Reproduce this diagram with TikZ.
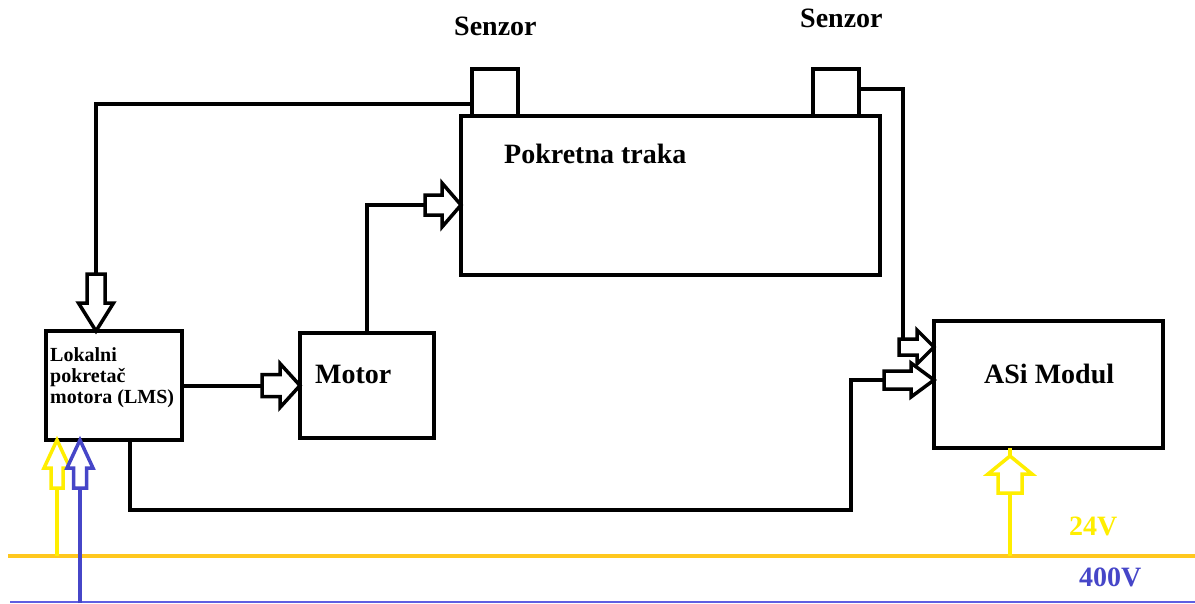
\documentclass[tikz,border=0pt]{standalone}
\usepackage{fontspec}
\setmainfont{Liberation Serif}
\usetikzlibrary{calc}
\definecolor{railY}{RGB}{255,200,30}
\definecolor{sigY}{RGB}{255,238,0}
\definecolor{sigB}{RGB}{70,70,200}
\definecolor{railB}{RGB}{95,95,225}
\tikzset{
  wire/.style={line width=4pt, black},
  boxn/.style={draw, line width=4pt, inner sep=0pt, outer sep=0pt, anchor=north west},
  lbl/.style={font=\fontsize{28}{30}\selectfont\bfseries, anchor=base west, inner sep=0pt},
  lmslbl/.style={font=\fontsize{20}{21}\selectfont\bfseries, anchor=base west, inner sep=0pt},
  pics/harrow/.style n args={4}{code={
    \draw[pic actions, fill=white] (0,0) -- (-#2,#4) -- (-#2,#3) -- (-#1,#3) -- (-#1,-#3) -- (-#2,-#3) -- (-#2,-#4) -- cycle;
  }},
  harr/.style={line width=3.5pt, black, line join=miter},
}
\begin{document}
\begin{tikzpicture}[x=1pt, y=-1pt]
\useasboundingbox (0,0) rectangle (1195,603);

% boxes
\node[boxn, minimum width=46pt, minimum height=47pt] (s1) at (472,69) {};
\node[boxn, minimum width=46pt, minimum height=47pt] (s2) at (813,69) {};
\node[boxn, minimum width=419pt, minimum height=159pt] (traka) at (461,116) {};
\node[boxn, minimum width=136pt, minimum height=109pt] (lms) at (46,331) {};
\node[boxn, minimum width=134pt, minimum height=105pt] (motor) at (300,333) {};
\node[boxn, minimum width=229pt, minimum height=127pt] (asi) at (934,321) {};

% labels
\node[lbl] (t1) at (454,35) {Senzor};
\node[lbl] (t2) at (800,27) {Senzor};
\node[lbl] (t3) at (504,163) {Pokretna traka};
\node[lbl] (t4) at (315,383) {Motor};
\node[lbl] (t5) at (984,383) {ASi Modul};
\node[lmslbl] (l1) at (50,361) {Lokalni};
\node[lmslbl] (l2) at (50,382) {pokretač};
\node[lmslbl] (l3) at (50,403) {motora (LMS)};
\node[lbl, text=sigY] (t6) at (1069,535) {24V};
\node[lbl, text=sigB] (t7) at (1079,586) {400V};

% rails
\coordinate (r24a) at (8,556);
\coordinate (r24b) at (1195,556);
\coordinate (r400a) at (10,602);
\coordinate (r400b) at (1195,602);
\draw[line width=4pt, railY] (r24a) -- (r24b);
\draw[line width=2pt, railB] (r400a) -- (r400b);

% wires
\coordinate (c1) at (96,274);
\draw[wire] ([yshift=-11pt]s1.west) -| (c1);
\coordinate (c2) at (262,0);
\draw[wire] (lms.east |- motor.west) -- (c2 |- motor.west);
\coordinate (c3) at (367,205);
\coordinate (c3b) at (425,205);
\draw[wire] (motor.north -| c3) -- (c3) -- (c3b);
\coordinate (c4) at (903,347);
\draw[wire] ([yshift=3.5pt]s2.east) -| (c4) -- (920,347);
\coordinate (c5a) at (130,510);
\coordinate (c5b) at (851,510);
\coordinate (c5c) at (851,380);
\coordinate (c5d) at (890,380);
\draw[wire] (lms.south -| c5a) -- (c5a) -- (c5b) -- (c5c) -- (c5d);
\coordinate (y1) at (57,556);
\draw[line width=3.5pt, sigY] (y1) -- (lms.south -| y1);
\coordinate (b1) at (80,603);
\draw[line width=3.5pt, sigB] (b1) -- (lms.south -| b1);
\coordinate (y2) at (1010,556);
\draw[line width=3.5pt, sigY] (y2) -- (asi.south -| y2);

% hollow arrow heads
\pic[harr, rotate=-90] at (c1 |- lms.north) {harrow={57}{28}{9}{17.5}};
\pic[harr] at (motor.west) {harrow={38}{20}{11}{22}};
\pic[harr] at (traka.west |- c3) {harrow={36}{19}{10}{22}};
\pic[harr] at (asi.west |- c4) {harrow={35}{17}{8}{17}};
\pic[harr] at (asi.west |- c5c) {harrow={50}{23}{9}{17}};
\pic[harr, sigY, rotate=90] at (lms.south -| y1) {harrow={48}{28}{6}{13}};
\pic[harr, sigB, rotate=90] at (lms.south -| b1) {harrow={48}{28}{6.5}{13}};
\pic[harr, sigY, rotate=90] at (1010,456) {harrow={37}{18}{12}{22}};
\end{tikzpicture}
\end{document}
